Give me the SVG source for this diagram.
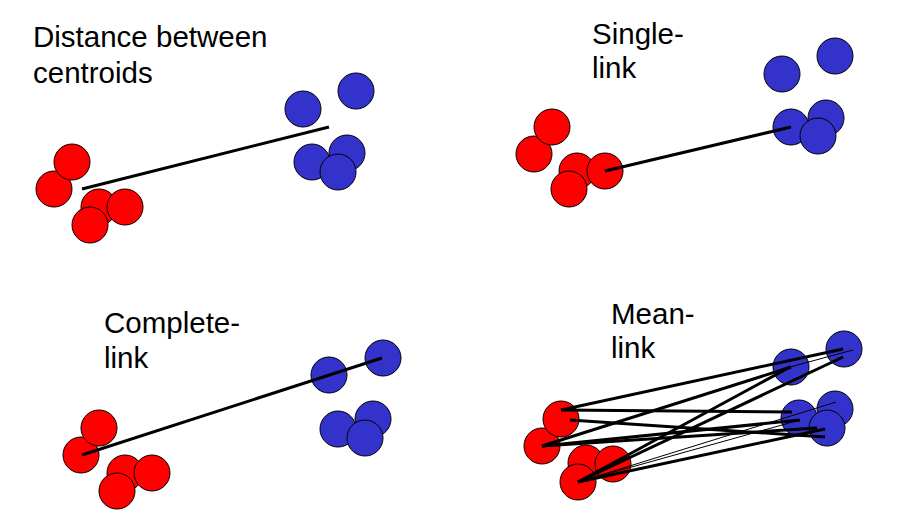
<svg xmlns="http://www.w3.org/2000/svg" width="898" height="517" viewBox="0 0 898 517">
<style>
.t{font-family:"Liberation Sans",Arial,sans-serif;font-size:29.5px;fill:#000}
.r{fill:#FF0000;stroke:#000;stroke-width:1}
.b{fill:#3333CC;stroke:#000;stroke-width:1}
.k{stroke:#000;stroke-width:3;fill:none;stroke-linecap:butt}
.n{stroke:#000;stroke-width:1;fill:none}
</style>
<rect width="898" height="517" fill="#fff"/>
<g id="panel-centroids">
<text class="t" x="33" y="47">Distance between</text>
<text class="t" x="33" y="83">centroids</text>
<circle class="r" cx="54" cy="189" r="18"/>
<circle class="r" cx="72" cy="162" r="18"/>
<circle class="r" cx="99" cy="207" r="18"/>
<circle class="r" cx="125" cy="207" r="18"/>
<circle class="r" cx="90" cy="225" r="18"/>
<circle class="b" cx="303" cy="109" r="18"/>
<circle class="b" cx="356" cy="91" r="18"/>
<circle class="b" cx="347" cy="153" r="18"/>
<circle class="b" cx="312" cy="162" r="18"/>
<circle class="b" cx="338" cy="172" r="18"/>
</g>
<g id="panel-single">
<text class="t" x="592" y="44">Single-</text>
<text class="t" x="592" y="78">link</text>
<circle class="r" cx="534" cy="154" r="18"/>
<circle class="r" cx="552" cy="127" r="18"/>
<circle class="r" cx="577" cy="171" r="18"/>
<circle class="r" cx="569" cy="189" r="18"/>
<circle class="r" cx="605" cy="171" r="18"/>
<circle class="b" cx="782" cy="74" r="18"/>
<circle class="b" cx="835" cy="56" r="18"/>
<circle class="b" cx="826" cy="118" r="18"/>
<circle class="b" cx="791" cy="127" r="18"/>
<circle class="b" cx="818" cy="136" r="18"/>
</g>
<g id="panel-complete">
<text class="t" x="104" y="333">Complete-</text>
<text class="t" x="104" y="368">link</text>
<circle class="r" cx="81" cy="455" r="18"/>
<circle class="r" cx="99" cy="428" r="18"/>
<circle class="r" cx="125" cy="473" r="18"/>
<circle class="r" cx="152" cy="473" r="18"/>
<circle class="r" cx="117" cy="491" r="18"/>
<circle class="b" cx="329" cy="375" r="18"/>
<circle class="b" cx="383" cy="358" r="18"/>
<circle class="b" cx="373" cy="419" r="18"/>
<circle class="b" cx="338" cy="429" r="18"/>
<circle class="b" cx="365" cy="438" r="18"/>
</g>
<g id="panel-mean">
<text class="t" x="611" y="324">Mean-</text>
<text class="t" x="611" y="358">link</text>
<circle class="r" cx="542" cy="446" r="18"/>
<circle class="r" cx="561" cy="419" r="18"/>
<circle class="r" cx="586" cy="463" r="18"/>
<circle class="r" cx="613" cy="464" r="18"/>
<circle class="r" cx="578" cy="482" r="18"/>
<circle class="b" cx="791" cy="367" r="18"/>
<circle class="b" cx="844" cy="349" r="18"/>
<circle class="b" cx="835" cy="409" r="18"/>
<circle class="b" cx="799" cy="418" r="18"/>
<circle class="b" cx="827" cy="428" r="18"/>
</g>
<g id="connectors">
<line class="k" x1="82" y1="189" x2="329" y2="127"/>
<line class="k" x1="605" y1="171" x2="791" y2="127"/>
<line class="k" x1="82" y1="455" x2="382" y2="358"/>
<line class="k" x1="561" y1="410" x2="843" y2="349"/>
<line class="k" x1="561" y1="410" x2="792" y2="412"/>
<line class="k" x1="570" y1="420" x2="825" y2="437"/>
<line class="k" x1="542" y1="446" x2="791" y2="367"/>
<line class="k" x1="542" y1="446" x2="800" y2="420"/>
<line class="k" x1="542" y1="446" x2="817" y2="428"/>
<line class="k" x1="578" y1="482" x2="843" y2="357"/>
<line class="k" x1="578" y1="482" x2="790" y2="367"/>
<line class="k" x1="578" y1="482" x2="825" y2="429"/>
<line class="n" x1="578" y1="482" x2="836" y2="402"/>
<line class="n" x1="578" y1="482" x2="800" y2="420"/>
<line class="n" x1="790" y1="367" x2="853" y2="350"/>
</g>
</svg>
